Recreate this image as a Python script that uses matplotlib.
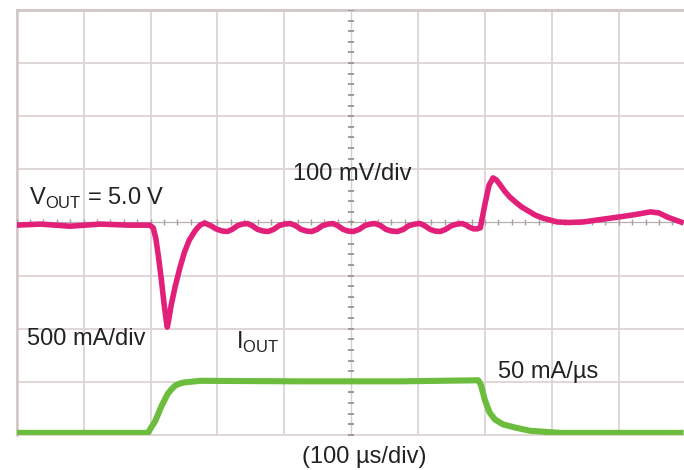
import matplotlib
matplotlib.use('Agg')
import matplotlib.pyplot as plt
import numpy as np

plt.rcParams['font.family'] = ['Liberation Sans', 'DejaVu Sans']
plt.rcParams['mathtext.fontset'] = 'custom'
plt.rcParams['mathtext.rm'] = 'Liberation Sans'

# Time axis in divisions (100 us/div), values in divisions from screen centre
vout_t = [0.00, 0.35, 0.80, 1.25, 1.69, 1.99, 2.04, 2.08, 2.12, 2.16, 2.20, 2.23, 2.25, 2.27,
          2.31, 2.37, 2.44, 2.51, 2.58, 2.67, 2.74, 2.81, 2.90, 2.98, 3.07, 3.15,
          3.22, 3.30, 3.37, 3.45, 3.52, 3.60, 3.68, 3.76, 3.84, 3.92, 4.00, 4.09,
          4.17, 4.25, 4.33, 4.41, 4.49, 4.57, 4.65, 4.73, 4.80, 4.88, 4.95, 5.03,
          5.12, 5.20, 5.28, 5.36, 5.44, 5.52, 5.60, 5.69, 5.78, 5.86, 5.95, 6.03,
          6.10, 6.18, 6.25, 6.33, 6.41, 6.50, 6.58, 6.66, 6.72, 6.77, 6.83, 6.88,
          6.93, 7.00, 7.06, 7.12, 7.17, 7.22, 7.30, 7.37, 7.48, 7.55, 7.63, 7.75,
          7.87, 8.08, 8.25, 8.47, 8.75, 8.98, 9.25, 9.47, 9.60, 9.73, 9.97]
vout_div = [-0.05, -0.03, -0.07, -0.03, -0.05, -0.05, -0.10, -0.30, -0.65, -1.05, -1.50, -1.80, -1.97, -1.85,
            -1.55, -1.20, -0.85, -0.55, -0.33, -0.15, -0.05, -0.01, -0.06, -0.12, -0.16, -0.17,
            -0.13, -0.06, -0.03, -0.02, -0.06, -0.13, -0.16, -0.17, -0.13, -0.06, -0.03, -0.02,
            -0.06, -0.13, -0.16, -0.17, -0.13, -0.06, -0.03, -0.02, -0.06, -0.13, -0.16, -0.17,
            -0.13, -0.06, -0.03, -0.02, -0.06, -0.13, -0.16, -0.17, -0.13, -0.06, -0.03, -0.02,
            -0.06, -0.13, -0.16, -0.17, -0.13, -0.06, -0.03, -0.02, -0.05, -0.09, -0.12, -0.12,
            -0.10, 0.35, 0.70, 0.84, 0.80, 0.72, 0.58, 0.48, 0.36, 0.29, 0.23, 0.14,
            0.08, 0.01, 0.00, 0.01, 0.06, 0.10, 0.15, 0.20, 0.18, 0.10, -0.01]

iout_t = [0.00, 1.00, 1.96, 2.07, 2.17, 2.26, 2.32, 2.37, 2.44, 2.51, 2.74, 4.24, 5.73, 6.90,
          6.94, 7.00, 7.07, 7.15, 7.27, 7.45, 7.67, 8.12, 9.97]
iout_div = [-3.96, -3.96, -3.96, -3.74, -3.44, -3.22, -3.13, -3.07, -3.03, -3.01, -2.98, -2.99, -2.99, -2.97,
            -3.06, -3.35, -3.58, -3.71, -3.80, -3.86, -3.92, -3.96, -3.96]

labels = {
    'vout': r'V$_{\mathregular{OUT}}$ = 5.0 V',
    'vscale': '100 mV/div',
    'iscale': '500 mA/div',
    'iout': r'I$_{\mathregular{OUT}}$',
    'slew': '50 mA/µs',
    'time': '(100 µs/div)',
}

fig = plt.figure(figsize=(6.84, 4.70), dpi=100)
ax = fig.add_axes([16.7 / 684, 35 / 470, 669 / 684, 425 / 470])
ax.set_xlim(0, 10)
ax.set_ylim(-4, 4)
ax.axis('off')

grid_color = '#ddd3d3'
for gx in range(11):
    if gx == 5:
        continue
    ax.axvline(gx, color=grid_color, lw=1.3, zorder=1, clip_on=False)
for gy in range(-4, 5):
    if gy == 0:
        continue
    ax.axhline(gy, color=grid_color, lw=1.3, zorder=1, clip_on=False)
ax.axhline(4, color='#d2c6c6', lw=2.0, zorder=1, clip_on=False)
ax.axvline(0, color='#d2c6c6', lw=1.8, zorder=1, clip_on=False)

# centre graticule with minor ticks
ax.axvline(5, color='#d6d0d0', lw=1.0, zorder=1)
ax.axhline(0, color='#b8b0b0', lw=0.9, zorder=1)
tx = np.arange(0, 10.01, 0.2)
ax.plot(tx, np.zeros_like(tx), ls='none', marker='|', ms=4, mew=1.0, color='#a8a0a0', zorder=1)
ty = np.arange(-4, 4.01, 0.2)
ax.plot(np.full_like(ty, 5.0), ty, ls='none', marker='_', ms=4, mew=1.4, color='#a09898', zorder=1)

ax.plot(vout_t, vout_div, color='#e2207a', lw=4.0, solid_joinstyle='round',
        solid_capstyle='butt', zorder=3)
ax.plot(iout_t, iout_div, color='#6cbd3e', lw=4.4, solid_joinstyle='round',
        solid_capstyle='butt', zorder=3)

fs = 17
tc = '#222222'
ax.text(0.18, 0.33, labels['vout'], fontsize=fs, color=tc, va='baseline', ha='left', zorder=4)
ax.text(4.13, 0.80, labels['vscale'], fontsize=fs, color=tc, va='baseline', ha='left', zorder=4)
ax.text(0.15, -2.31, labels['iscale'], fontsize=fs, color=tc, va='baseline', ha='left', zorder=4)
ax.text(3.28, -2.37, labels['iout'], fontsize=fs, color=tc, va='baseline', ha='left', zorder=4)
ax.text(7.19, -2.93, labels['slew'], fontsize=fs, color=tc, va='baseline', ha='left', zorder=4)
fig.text(364.5 / 684, 1 - 446 / 470, labels['time'], fontsize=fs, color=tc, va='top', ha='center')

fig.savefig('out.png', dpi=100)
